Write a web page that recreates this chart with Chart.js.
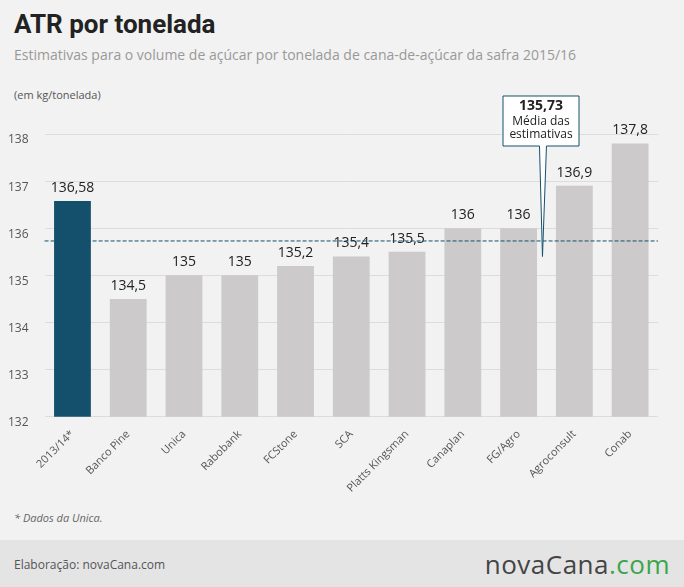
<!DOCTYPE html><html><head><meta charset="utf-8">
<script src="https://cdn.jsdelivr.net/npm/chart.js@4"></script>
<style>
body{margin:0;width:684px;height:587px;background:#f2f2f2;font-family:"Open Sans",sans-serif;position:relative;overflow:hidden}
#t{position:absolute;left:14px;top:9px;font:bold 26px "Roboto",sans-serif;color:#222}
#s{position:absolute;left:14px;top:45px;font-size:14px;color:#999}
#u{position:absolute;left:14px;top:87px;font-size:11px;color:#555}
#n{position:absolute;left:14px;top:510px;font-size:11px;color:#666;font-style:italic}
#f{position:absolute;left:0;top:540px;width:684px;height:47px;background:#e4e4e4}
#f1{position:absolute;left:14px;top:16px;font-size:12px;color:#555}
#f2{position:absolute;right:14px;top:6px;font-size:26px;color:#444;letter-spacing:0.5px}
#f2 span{color:#3aa64a}
canvas{position:absolute;left:0;top:0}
</style></head><body>
<div id="t">ATR por tonelada</div>
<div id="s">Estimativas para o volume de açúcar por tonelada de cana-de-açúcar da safra 2015/16</div>
<div id="u">(em kg/tonelada)</div>
<div id="n">* Dados da Unica.</div>
<div id="f"><div id="f1">Elaboração: novaCana.com</div><div id="f2">novaCana<span>.com</span></div></div>
<div style="position:absolute;left:0;top:0;width:684px;height:498px"><canvas id="c"></canvas></div>
<script>
const categories=["2013/14*","Banco Pine","Unica","Rabobank","FCStone","SCA","Platts Kingsman","Canaplan","FG/Agro","Agroconsult","Conab"];
const values=[136.58,134.5,135,135,135.2,135.4,135.5,136,136,136.9,137.8];
const labels=["136,58","134,5","135","135","135,2","135,4","135,5","136","136","136,9","137,8"];
const average=135.73;
const yTicks=[132,133,134,135,136,137,138];
const plug={id:'p',afterDatasetsDraw(ch){
 const c=ch.ctx,y=ch.scales.y,m=ch.getDatasetMeta(0);
 c.save();c.font='14px "Open Sans"';c.fillStyle='#222';c.textAlign='center';c.textBaseline='bottom';
 m.data.forEach((b,i)=>c.fillText(labels[i],b.x,b.y-6));
 const ay=y.getPixelForValue(average);
 c.strokeStyle='#14506b';c.setLineDash([4,2]);c.lineWidth=1;
 c.beginPath();c.moveTo(ch.chartArea.left,ay);c.lineTo(ch.chartArea.right,ay);c.stroke();c.setLineDash([]);
 const bx=503,by=96,bw=76,bh=50,tip=(m.data[8].x+m.data[9].x)/2-4;
 c.fillStyle='#fff';c.strokeStyle='#14506b';
 c.beginPath();c.moveTo(bx,by);c.lineTo(bx+bw,by);c.lineTo(bx+bw,by+bh);c.lineTo(tip+4,by+bh);c.lineTo(tip,y.getPixelForValue(135.4));c.lineTo(tip-3,by+bh);c.lineTo(bx,by+bh);c.closePath();c.fill();c.stroke();
 c.fillStyle='#222';c.textBaseline='top';c.font='bold 14px "Open Sans"';c.fillText('135,73',bx+bw/2,by+3);
 c.font='12px "Open Sans"';c.fillText('Média das',bx+bw/2,by+20);c.fillText('estimativas',bx+bw/2,by+33);
 c.restore();}};
new Chart(document.getElementById('c'),{type:'bar',
data:{labels:categories,datasets:[{data:values,backgroundColor:values.map((v,i)=>i==0?'#14506b':'#cccaca'),categoryPercentage:1,barPercentage:0.66}]},
options:{responsive:true,maintainAspectRatio:false,animation:false,
layout:{padding:{top:134,right:26,left:8}},
plugins:{legend:{display:false},tooltip:{enabled:false}},
scales:{y:{min:132,max:138,afterBuildTicks(a){a.ticks=yTicks.map(v=>({value:v}))},grid:{color:'#dcdcdc',drawTicks:false},border:{display:false},ticks:{color:'#555',font:{size:12,family:'Open Sans'},padding:8,align:'start',crossAlign:'far'}},
x:{grid:{display:false},border:{display:false},ticks:{color:'#555',font:{size:11,family:'Open Sans'},maxRotation:45,minRotation:45}}}},
plugins:[plug]});
</script></body></html>
